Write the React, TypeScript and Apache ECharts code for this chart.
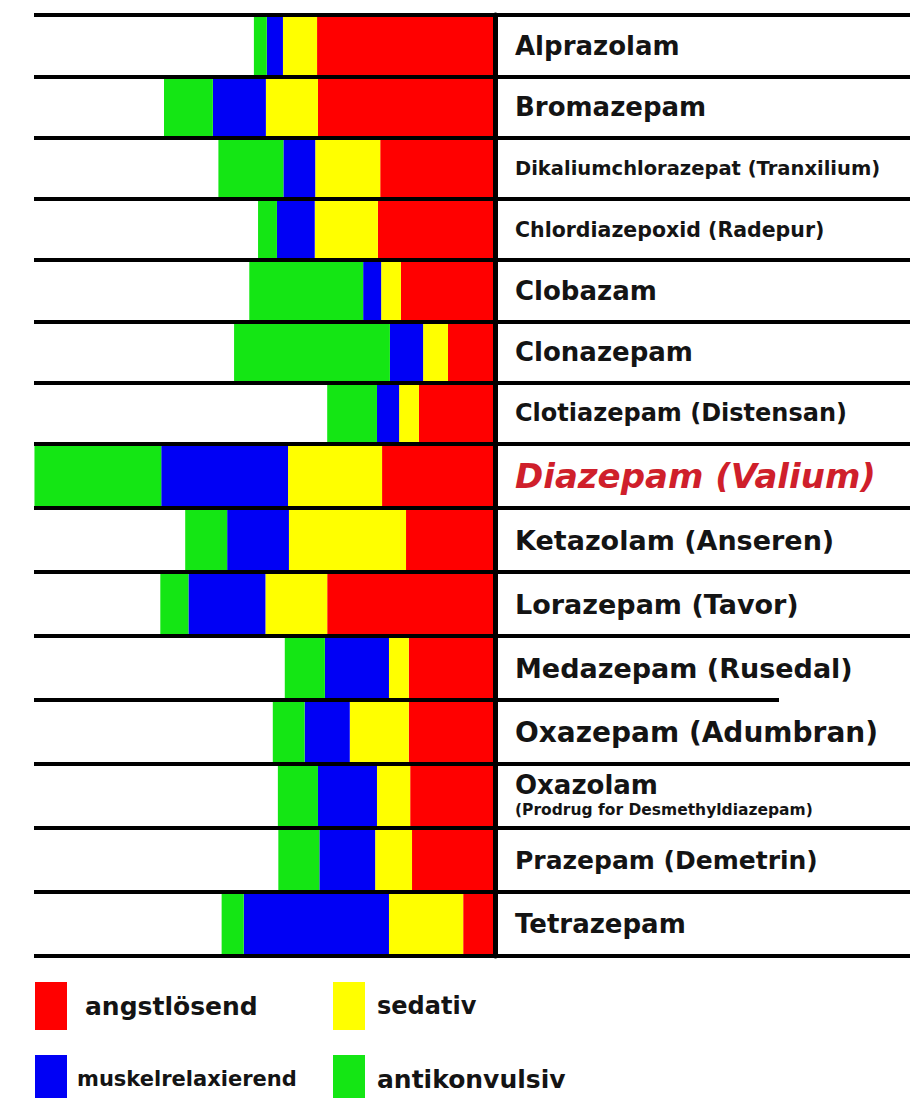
import React, { useEffect, useRef } from 'react';
import * as echarts from 'echarts';

// ---- data ----
const drugs = [
  'Alprazolam',
  'Bromazepam',
  'Dikaliumchlorazepat (Tranxilium)',
  'Chlordiazepoxid (Radepur)',
  'Clobazam',
  'Clonazepam',
  'Clotiazepam (Distensan)',
  'Diazepam (Valium)',
  'Ketazolam (Anseren)',
  'Lorazepam (Tavor)',
  'Medazepam (Rusedal)',
  'Oxazepam (Adumbran)',
  'Oxazolam',
  'Prazepam (Demetrin)',
  'Tetrazepam',
];
const oxazolamNote = '(Prodrug for Desmethyldiazepam)';
const effects = ['angstlösend', 'sedativ', 'muskelrelaxierend', 'antikonvulsiv'];
const angstloesend = [38.6, 38.4, 24.9, 25.4, 20.4, 10.2, 16.5, 24.5, 19.3, 36.4, 18.7, 18.7, 18.4, 18.0, 6.9];
const sedativ = [7.4, 11.3, 14.1, 13.7, 4.3, 5.4, 4.3, 20.4, 25.4, 13.4, 4.3, 12.8, 7.2, 8.0, 16.1];
const muskelrelaxierend = [3.5, 11.5, 6.9, 8.2, 3.9, 7.2, 4.8, 27.5, 13.4, 16.7, 13.9, 9.8, 12.8, 12.1, 31.5];
const antikonvulsiv = [2.8, 10.6, 14.1, 4.1, 24.7, 33.8, 10.8, 27.5, 9.1, 6.1, 8.7, 6.9, 8.7, 8.9, 4.8];

// ---- styling ----
const FONT = '"DejaVu Sans", Verdana, sans-serif';
const colors = ['#ff0000', '#ffff00', '#0000f5', '#14e614'];
const labelKey: Record<string, string> = {
  'Alprazolam': 's26',
  'Bromazepam': 's26',
  'Dikaliumchlorazepat (Tranxilium)': 's19',
  'Chlordiazepoxid (Radepur)': 's20',
  'Clobazam': 's26',
  'Clonazepam': 's26',
  'Clotiazepam (Distensan)': 's24',
  'Diazepam (Valium)': 'dia',
  'Ketazolam (Anseren)': 's27',
  'Lorazepam (Tavor)': 's27',
  'Medazepam (Rusedal)': 's27',
  'Oxazepam (Adumbran)': 's28',
  'Oxazolam': 's26',
  'Prazepam (Demetrin)': 's25',
  'Tetrazepam': 's26',
};
const mk = (size: number) => ({ fontSize: size, fontFamily: FONT, fontWeight: 'bold', color: '#141414' });
const rich: any = {
  s19: mk(19.5),
  s20: mk(20.5),
  s24: mk(24),
  s25: mk(25),
  s26: mk(26),
  s27: mk(27),
  s28: mk(28),
  dia: { fontSize: 34, fontFamily: FONT, fontWeight: 'bold', fontStyle: 'italic', color: '#cf1f2b' },
  ox: { ...mk(26), lineHeight: 28 },
  note: { ...mk(15.5), lineHeight: 22 },
};

// legend item placement: [left, top, text gap, font size]
const legendLayout: [number, number, number, number][] = [
  [35, 982, 13, 25],
  [333, 982, 7, 24],
  [35, 1055, 5, 21],
  [333, 1055, 7, 25],
];

const SPLIT = 7; // first rows in upper block
const TOP = 15;
const MID = 444;
const BOTTOM = 956;
const BAR_LEFT = 34;
const AXIS_X = 495;
const RIGHT_END = 910;
const W = 919;
const H = 1098;

function buildOption() {
  const blocks = [drugs.slice(0, SPLIT), drugs.slice(SPLIT)];
  const seriesData = [angstloesend, sedativ, muskelrelaxierend, antikonvulsiv];
  const labelFormatter = (v: string) => {
    if (v === 'Oxazolam') return `{ox|${v}}\n{note|${oxazolamNote}}`;
    return `{${labelKey[v] || 's26'}|${v}}`;
  };
  const grids = [
    { left: BAR_LEFT, right: W - AXIS_X, top: TOP, height: MID - TOP },
    { left: BAR_LEFT, right: W - AXIS_X, top: MID, height: BOTTOM - MID },
    { left: AXIS_X, right: W - RIGHT_END, top: TOP, height: MID - TOP },
    { left: AXIS_X, right: W - RIGHT_END, top: MID, height: BOTTOM - MID },
  ];
  const xAxis = [0, 1, 2, 3].map((i) =>
    i < 2
      ? { gridIndex: i, type: 'value', inverse: true, min: 0, max: 100, show: false }
      : { gridIndex: i, type: 'value', min: 0, max: 1, show: false }
  );
  const lineStyle = { color: '#000', width: 4 };
  const yAxis = [0, 1, 2, 3].map((i) => {
    const data = blocks[i % 2];
    if (i < 2) {
      return {
        gridIndex: i,
        type: 'category',
        data,
        inverse: true,
        position: 'right',
        z: 5,
        axisLine: { show: true, lineStyle: { color: '#000', width: 5 } },
        axisTick: { show: false },
        splitLine: { show: true, lineStyle },
        axisLabel: { show: true, margin: 20, formatter: labelFormatter, rich },
      };
    }
    return {
      gridIndex: i,
      type: 'category',
      data,
      inverse: true,
      position: 'left',
      z: 5,
      axisLine: { show: false },
      axisTick: { show: false },
      axisLabel: { show: false },
      splitLine: { show: true, lineStyle },
    };
  });
  const series: any[] = [];
  effects.forEach((name, k) => {
    [0, 1].forEach((b) => {
      const vals = b === 0 ? seriesData[k].slice(0, SPLIT) : seriesData[k].slice(SPLIT);
      series.push({
        name,
        type: 'bar',
        stack: 'effects' + b,
        xAxisIndex: b,
        yAxisIndex: b,
        barCategoryGap: '0%',
        itemStyle: { color: colors[k] },
        data: vals,
      });
    });
  });
  const rowH = (BOTTOM - MID) / (drugs.length - SPLIT);
  const shortLineY = MID + rowH * (drugs.indexOf('Oxazepam (Adumbran)') - SPLIT);
  const legend = effects.map((name, k) => {
    const [left, top, gap, size] = legendLayout[k];
    return {
      left,
      top,
      padding: 0,
      itemWidth: 32,
      itemHeight: 48,
      icon: 'rect',
      selectedMode: false,
      data: [name],
      formatter: (n: string) => `{sp| }{t|${n}}`,
      textStyle: {
        rich: {
          sp: { width: gap, fontSize: 10 },
          t: { fontSize: size, fontFamily: FONT, fontWeight: 'bold', color: '#141414' },
        },
      },
    };
  });
  return {
    animation: false,
    backgroundColor: '#ffffff',
    grid: grids,
    xAxis,
    yAxis,
    series,
    legend,
    graphic: [
      {
        type: 'rect',
        z: 100,
        shape: { x: 779, y: shortLineY - 5, width: W - 779, height: 10 },
        style: { fill: '#ffffff' },
      },
    ],
  };
}

export default function App() {
  const ref = useRef<HTMLDivElement>(null);
  useEffect(() => {
    if (!ref.current) return;
    const chart = echarts.init(ref.current, undefined, { renderer: 'svg' });
    chart.setOption(buildOption() as any);
    return () => chart.dispose();
  }, []);
  return (
    <div
      ref={ref}
      style={{ position: 'absolute', left: 0, top: 0, width: W, height: H, background: '#fff' }}
    />
  );
}
